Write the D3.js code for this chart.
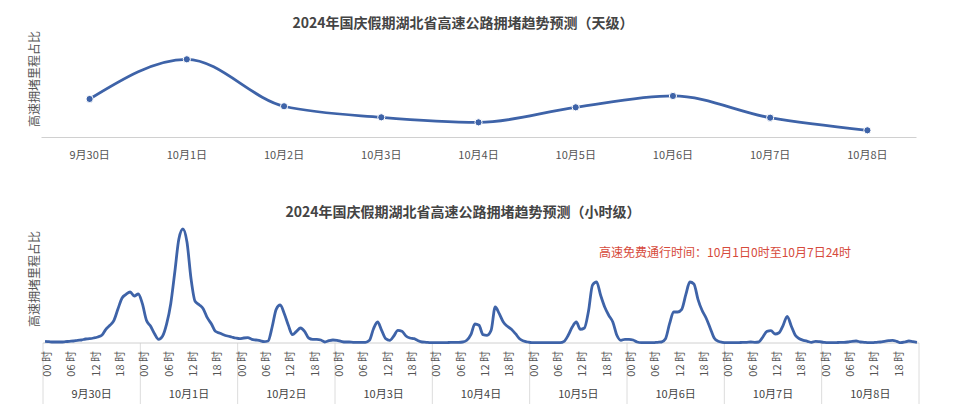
<!DOCTYPE html>
<html>
<head>
<meta charset="utf-8">
<script src="https://cdn.jsdelivr.net/npm/d3@7"></script>
<style>
  body { margin: 0; background: #fff; }
  text { font-family: "Noto Sans CJK SC", "Noto Sans", sans-serif; }
</style>
</head>
<body>
<div id="viz"></div>
<script>
// Daily congestion share (top chart)
var days = ["9月30日", "10月1日", "10月2日", "10月3日", "10月4日", "10月5日", "10月6日", "10月7日", "10月8日"]
var dailyValues = [39.2, 80.1, 31.7, 20.3, 15.1, 30.6, 42.3, 19.9, 6.9]

// Hourly congestion share (bottom chart), 24 values per day
var hourTickLabels = ["00 时", "06 时", "12 时", "18 时"]
var hourTickHours = [0, 6, 12, 18]
var hourlyValues = [
  // 9月30日
  0.17, 0.13, 0.10, 0.10, 0.10, 0.13, 0.17, 0.20, 0.27, 0.30, 0.40, 0.43,
  0.50, 0.60, 0.77, 1.37, 1.77, 2.27, 3.43, 4.50, 4.87, 5.10, 4.70, 4.90,
  // 10月1日
  3.93, 2.27, 1.70, 0.93, 0.37, 0.70, 1.93, 3.93, 7.10, 10.40, 11.40, 10.10,
  6.43, 4.17, 3.83, 3.43, 2.53, 1.93, 1.17, 1.00, 0.83, 0.70, 0.60, 0.50,
  // 10月2日
  0.43, 0.50, 0.53, 0.37, 0.30, 0.23, 0.13, 0.20, 1.60, 3.37, 3.80, 2.93,
  1.77, 0.83, 1.17, 1.50, 1.17, 0.50, 0.37, 0.37, 0.30, 0.10, 0.23, 0.30,
  // 10月3日
  0.27, 0.17, 0.10, 0.10, 0.07, 0.07, 0.07, 0.07, 0.27, 1.43, 2.10, 1.27,
  0.43, 0.27, 0.70, 1.27, 1.17, 0.70, 0.50, 0.43, 0.23, 0.10, 0.07, 0.03,
  // 10月4日
  0.03, 0.03, 0.03, 0.03, 0.07, 0.07, 0.07, 0.10, 0.27, 0.83, 1.90, 1.77,
  0.83, 0.77, 1.27, 3.60, 2.93, 2.10, 1.67, 1.37, 0.93, 0.43, 0.20, 0.10,
  // 10月5日
  0.03, 0.03, 0.03, 0.03, 0.03, 0.03, 0.03, 0.03, 0.17, 0.77, 1.60, 2.10,
  1.37, 1.50, 3.17, 5.80, 6.10, 4.77, 3.60, 2.77, 2.10, 0.77, 0.27, 0.37,
  // 10月6日
  0.37, 0.30, 0.10, 0.03, 0.03, 0.03, 0.03, 0.07, 0.10, 0.43, 1.93, 3.10,
  3.10, 3.37, 4.83, 6.10, 5.90, 4.37, 3.27, 2.50, 1.50, 0.50, 0.17, 0.07,
  // 10月7日
  0.03, 0.03, 0.03, 0.03, 0.07, 0.07, 0.10, 0.07, 0.10, 0.60, 1.17, 1.23,
  0.90, 1.03, 1.77, 2.67, 1.70, 0.77, 0.43, 0.27, 0.17, 0.07, 0.17, 0.13,
  // 10月8日
  0.07, 0.03, 0.03, 0.03, 0.07, 0.07, 0.10, 0.17, 0.20, 0.10, 0.07, 0.03,
  0.03, 0.07, 0.10, 0.17, 0.23, 0.27, 0.17, 0.03, 0.10, 0.20, 0.13, 0.07
]

var lineColor = "#3e63a8"
var labelColor = "#555"

var svg = d3.select("#viz")
  .append("svg")
  .attr("width", 960)
  .attr("height", 418)
  .style("background-color", "#fff")

// ---------- Top chart (day level) ----------
var xDay = d3.scaleBand()
  .domain(days)
  .range([41, 916])

var yDay = d3.scaleLinear()
  .domain([0, 100])
  .range([137, 40])

svg.append("text")
  .attr("x", 463)
  .attr("y", 28)
  .attr("text-anchor", "middle")
  .style("font-size", "14px")
  .style("font-weight", "bold")
  .style("fill", "#444")
  .text("2024年国庆假期湖北省高速公路拥堵趋势预测（天级）")

svg.append("text")
  .attr("transform", "translate(33,79) rotate(-90)")
  .attr("text-anchor", "middle")
  .attr("dominant-baseline", "central")
  .style("font-size", "12px")
  .style("fill", labelColor)
  .text("高速拥堵里程占比")

var topAxis = svg.append("g")
  .attr("transform", "translate(0,137)")
  .call(d3.axisBottom(xDay).tickSize(0).tickPadding(14))

topAxis.select(".domain").attr("stroke", "#d0d0d0")
topAxis.selectAll("text")
  .style("font-size", "11px")
  .style("fill", labelColor)
  .style("font-family", "'Noto Sans CJK SC', sans-serif")

var dayLine = d3.line()
  .x((d, i) => xDay(days[i]) + xDay.bandwidth() / 2)
  .y(d => yDay(d))
  .curve(d3.curveMonotoneX)

svg.append("path")
  .datum(dailyValues)
  .attr("d", dayLine)
  .attr("fill", "none")
  .attr("stroke", lineColor)
  .attr("stroke-width", 2.8)

svg.selectAll("circle.day")
  .data(dailyValues)
  .enter()
  .append("circle")
  .attr("class", "day")
  .attr("cx", (d, i) => xDay(days[i]) + xDay.bandwidth() / 2)
  .attr("cy", d => yDay(d))
  .attr("r", 3.6)
  .style("fill", lineColor)
  .style("stroke", "#fff")
  .style("stroke-width", 1)

// ---------- Bottom chart (hour level) ----------
// one category per hour, built from the days
var hours = []
days.forEach(day => {
  for (var h = 0; h < 24; h++) hours.push(day + h)
})

var xHour = d3.scaleBand()
  .domain(hours)
  .range([43, 919])

var xDay2 = d3.scaleBand()
  .domain(days)
  .range([43, 919])

var yHour = d3.scaleLinear()
  .domain([0, 12])
  .range([343, 223])

svg.append("text")
  .attr("x", 463)
  .attr("y", 217)
  .attr("text-anchor", "middle")
  .style("font-size", "14px")
  .style("font-weight", "bold")
  .style("fill", "#444")
  .text("2024年国庆假期湖北省高速公路拥堵趋势预测（小时级）")

svg.append("text")
  .attr("x", 725)
  .attr("y", 257)
  .attr("text-anchor", "middle")
  .style("font-size", "12px")
  .style("fill", "#d64a3b")
  .text("高速免费通行时间：10月1日0时至10月7日24时")

svg.append("text")
  .attr("transform", "translate(33,279) rotate(-90)")
  .attr("text-anchor", "middle")
  .attr("dominant-baseline", "central")
  .style("font-size", "12px")
  .style("fill", labelColor)
  .text("高速拥堵里程占比")

// day separators below the axis
svg.selectAll("line.sep")
  .data(days.concat(["end"]))
  .enter()
  .append("line")
  .attr("class", "sep")
  .attr("x1", (d, i) => i < days.length ? xDay2(d) : xDay2.range()[1])
  .attr("x2", (d, i) => i < days.length ? xDay2(d) : xDay2.range()[1])
  .attr("y1", 343)
  .attr("y2", 404)
  .attr("stroke", "#dcdcdc")

svg.append("line")
  .attr("x1", 43)
  .attr("x2", 919)
  .attr("y1", 343)
  .attr("y2", 343)
  .attr("stroke", "#d0d0d0")

// hour tick labels, rotated
var hourTicks = []
days.forEach(day => {
  hourTickHours.forEach((h, j) => hourTicks.push({ key: day + h, label: hourTickLabels[j] }))
})

svg.selectAll("text.hour")
  .data(hourTicks)
  .enter()
  .append("text")
  .attr("class", "hour")
  .attr("transform", d => "translate(" + (xHour(d.key) + xHour.bandwidth() / 2 + 1) + ",351) rotate(-90)")
  .attr("text-anchor", "end")
  .attr("dominant-baseline", "central")
  .style("font-size", "11px")
  .style("fill", labelColor)
  .text(d => d.label)

svg.selectAll("text.dayLabel")
  .data(days)
  .enter()
  .append("text")
  .attr("class", "dayLabel")
  .attr("x", d => xDay2(d) + xDay2.bandwidth() / 2)
  .attr("y", 398)
  .attr("text-anchor", "middle")
  .style("font-size", "11px")
  .style("fill", "#444")
  .text(d => d)

var hourLine = d3.line()
  .x((d, i) => xHour(hours[i]) + xHour.bandwidth() / 2)
  .y(d => yHour(d))
  .curve(d3.curveMonotoneX)

svg.append("path")
  .datum(hourlyValues)
  .attr("d", hourLine)
  .attr("fill", "none")
  .attr("stroke", lineColor)
  .attr("stroke-width", 2.8)
  .attr("stroke-linejoin", "round")
</script>
</body>
</html>
